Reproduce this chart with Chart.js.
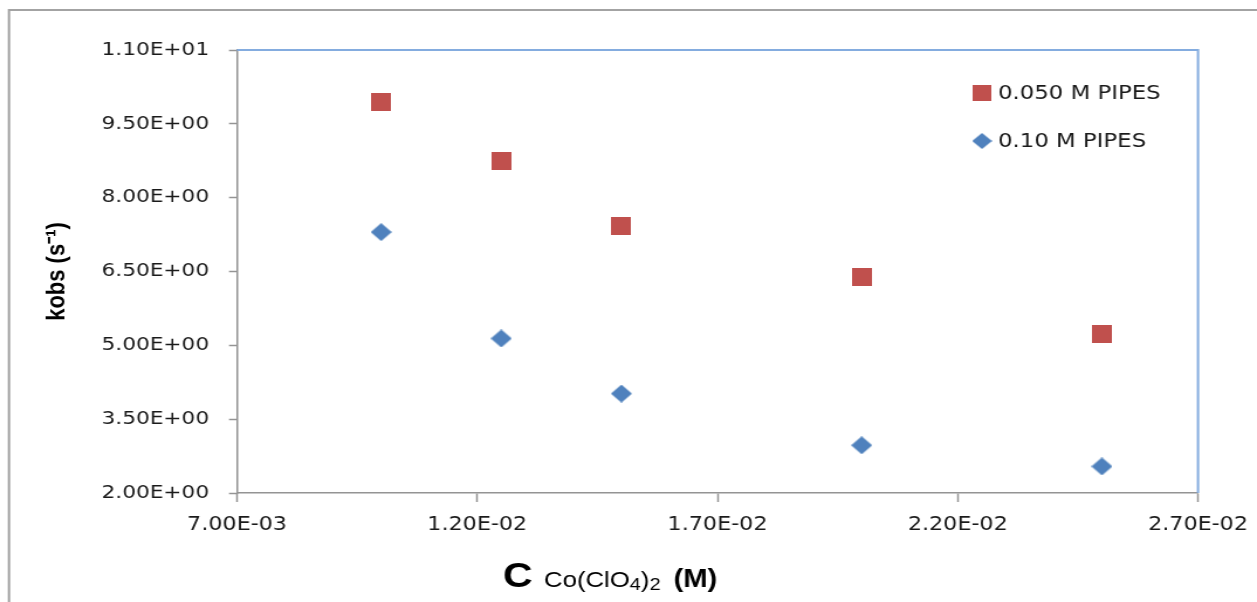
<!DOCTYPE html>
<html>
<head>
<meta charset="utf-8">
<script src="https://cdn.jsdelivr.net/npm/chart.js@4.4.1/dist/chart.umd.min.js"></script>
<style>
  html, body { margin: 0; padding: 0; background: #ffffff; overflow: hidden; }
  #c { display: block; }
</style>
</head>
<body>
<canvas id="c" width="1074" height="602" style="width:1257px;height:602px;"></canvas>
<script>
// ---- data ----
const concentrations = [0.010, 0.0125, 0.015, 0.020, 0.025];
const kobsPipes050 = [9.94, 8.74, 7.42, 6.38, 5.24];
const kobsPipes010 = [7.30, 5.14, 4.02, 2.97, 2.54];
const seriesNames = ['0.050 M PIPES', '0.10 M PIPES'];
const xTickValues = [0.007, 0.012, 0.017, 0.022, 0.027];
const yTickValues = [2, 3.5, 5, 6.5, 8, 9.5, 11];
const yAxisTitle = 'kobs (s\u207B\u00B9)';

// ---- rendering setup (reference is horizontally stretched) ----
const CW = 1074;
const S = 1257 / CW;
const TXT = '#1a1a1a';
const AXIS = '#949494';

function sci(v) {
  const parts = Number(v).toExponential(2).split('e');
  const n = parseInt(parts[1], 10);
  return parts[0] + 'E' + (n < 0 ? '-' : '+') + String(Math.abs(n)).padStart(2, '0');
}

function marker(type, w, h, color) {
  const c = document.createElement('canvas');
  c.width = w; c.height = h;
  const g = c.getContext('2d');
  g.fillStyle = color;
  if (type === 'square') {
    g.fillRect(0, 0, w, h);
  } else {
    g.beginPath();
    g.moveTo(w / 2, 0); g.lineTo(w, h / 2); g.lineTo(w / 2, h); g.lineTo(0, h / 2);
    g.closePath(); g.fill();
  }
  return c;
}
const redSquare = marker('square', 17, 18, '#c0504d');
const blueDiamond = marker('diamond', 18, 18, '#4f81bd');
const legendSquare = marker('square', 16, 16, '#c0504d');
const legendDiamond = marker('diamond', 17, 16, '#4f81bd');

const framePlugin = {
  id: 'frame',
  beforeDraw(chart) {
    const ctx = chart.ctx;
    ctx.save();
    ctx.fillStyle = '#ffffff';
    ctx.fillRect(0, 0, chart.width, chart.height);
    ctx.strokeStyle = '#a3a3a3';
    ctx.lineWidth = 2;
    ctx.beginPath();
    ctx.moveTo(9 / S, chart.height + 5);
    ctx.lineTo(9 / S, 10);
    ctx.lineTo(chart.width + 5, 10);
    ctx.stroke();
    ctx.restore();
  },
  beforeDatasetsDraw(chart) {
    const {ctx, chartArea: a} = chart;
    ctx.save();
    ctx.strokeStyle = '#84acdf';
    ctx.lineWidth = 2;
    ctx.beginPath();
    ctx.moveTo(a.left, a.top);
    ctx.lineTo(a.right, a.top);
    ctx.lineTo(a.right, a.bottom);
    ctx.stroke();
    ctx.restore();
  },
  afterDraw(chart) {
    const ctx = chart.ctx;
    ctx.save();
    // legend inside plot area
    const icons = [legendSquare, legendDiamond];
    const rowsY = [93, 141];
    ctx.font = '19.5px "DejaVu Sans"';
    ctx.fillStyle = TXT;
    ctx.textBaseline = 'middle';
    ctx.textAlign = 'left';
    chart.data.datasets.forEach((ds, i) => {
      const ic = icons[i];
      ctx.drawImage(ic, 982 / S - ic.width / 2, rowsY[i] - ic.height / 2);
      ctx.fillText(ds.label, 998 / S, rowsY[i] + 1);
    });
    // x-axis title with mixed formatting
    const fam = '"Liberation Sans", Arial, sans-serif';
    let x = 503 / S;
    const base = 587;
    const parts = [
      {t: 'C ', f: 'bold 35px ' + fam, dy: 0, gap: 0},
      {t: 'Co(ClO', f: '22px ' + fam, dy: 0, gap: 0},
      {t: '4', f: '17px ' + fam, dy: 3, gap: 0},
      {t: ')', f: '22px ' + fam, dy: 0, gap: 0},
      {t: '2', f: '17px ' + fam, dy: 3, gap: 0},
      {t: '(M)', f: 'bold 25px ' + fam, dy: 0, gap: 13 / S}
    ];
    ctx.textBaseline = 'alphabetic';
    ctx.fillStyle = '#000000';
    parts.forEach(p => {
      ctx.font = p.f;
      x += p.gap;
      ctx.fillText(p.t, x, base + p.dy);
      x += ctx.measureText(p.t).width;
    });
    ctx.restore();
  }
};

new Chart(document.getElementById('c'), {
  type: 'scatter',
  data: {
    datasets: [
      {
        label: seriesNames[0],
        data: concentrations.map((c, i) => ({x: c, y: kobsPipes050[i]})),
        pointStyle: redSquare,
        pointRadius: 9,
        showLine: false
      },
      {
        label: seriesNames[1],
        data: concentrations.map((c, i) => ({x: c, y: kobsPipes010[i]})),
        pointStyle: blueDiamond,
        pointRadius: 9,
        showLine: false
      }
    ]
  },
  options: {
    responsive: false,
    animation: false,
    devicePixelRatio: 1,
    layout: { padding: { top: 50, right: CW - 1198 / S, left: 0, bottom: 0 } },
    plugins: {
      legend: { display: false },
      tooltip: { enabled: false },
      title: { display: false }
    },
    scales: {
      x: {
        type: 'linear',
        min: xTickValues[0],
        max: xTickValues[xTickValues.length - 1],
        afterBuildTicks(scale) { scale.ticks = xTickValues.map(v => ({value: v})); },
        afterFit(scale) { scale.height = 109; scale.paddingLeft = 0; scale.paddingRight = 0; },
        ticks: {
          callback: v => sci(v),
          font: { family: '"DejaVu Sans"', size: 19 },
          color: TXT,
          padding: 12,
          maxRotation: 0,
          autoSkip: false
        },
        grid: { display: true, drawOnChartArea: false, drawTicks: true, tickLength: 9, tickColor: AXIS, tickWidth: 1.5 },
        border: { display: true, color: AXIS, width: 1.5 },
        title: { display: false }
      },
      y: {
        type: 'linear',
        min: yTickValues[0],
        max: yTickValues[yTickValues.length - 1],
        afterBuildTicks(scale) { scale.ticks = yTickValues.map(v => ({value: v})); },
        afterFit(scale) { scale.width = 237 / S; scale.paddingTop = 0; scale.paddingBottom = 0; },
        ticks: {
          callback: v => sci(v),
          font: { family: '"DejaVu Sans"', size: 18.5 },
          color: TXT,
          padding: 17,
          autoSkip: false
        },
        grid: { display: true, drawOnChartArea: false, drawTicks: true, tickLength: 8 / S, tickColor: AXIS, tickWidth: 1.5 },
        border: { display: true, color: AXIS, width: 1.5 },
        title: {
          display: true,
          text: yAxisTitle,
          color: '#000000',
          font: { family: '"Liberation Sans", Arial, sans-serif', size: 22, weight: 'bold' },
          padding: { top: 36, bottom: 0 }
        }
      }
    }
  },
  plugins: [framePlugin]
});
</script>
</body>
</html>
